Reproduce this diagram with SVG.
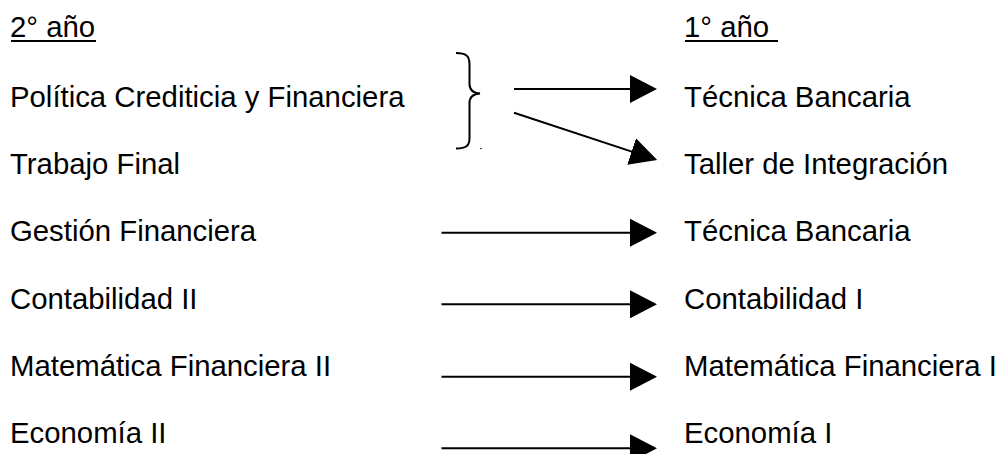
<svg xmlns="http://www.w3.org/2000/svg" width="998" height="454" viewBox="0 0 998 454">
<style>
text{font-family:"Liberation Sans",Arial,sans-serif;font-size:29.33px;fill:#000}
.c{stroke:#000;stroke-width:2;fill:none}
.u{stroke:#000;stroke-width:2}
</style>
<defs>
<marker id="ah" markerUnits="userSpaceOnUse" markerWidth="28" markerHeight="28" refX="25" refY="14" orient="auto" viewBox="0 0 28 28">
<path d="M0,0 L27,14 L0,28 Z" fill="#000"/>
</marker>
</defs>
<rect width="998" height="454" fill="#fff"/>
<g id="header-2">
<text x="10" y="37">2° año</text>
<line class="u" x1="11" y1="41" x2="96" y2="41"/>
</g>
<g id="header-1">
<text x="684" y="37">1° año</text>
<line class="u" x1="685" y1="41" x2="778" y2="41"/>
</g>
<g id="l1"><text x="10" y="107">Política Crediticia y Financiera</text></g>
<g id="l2"><text x="10" y="174">Trabajo Final</text></g>
<g id="l3"><text x="10" y="241">Gestión Financiera</text></g>
<g id="l4"><text x="10" y="309">Contabilidad II</text></g>
<g id="l5"><text x="10" y="376">Matemática Financiera II</text></g>
<g id="l6"><text x="10" y="443">Economía II</text></g>
<g id="r1"><text x="684" y="107">Técnica Bancaria</text></g>
<g id="r2"><text x="684" y="174">Taller de Integración</text></g>
<g id="r3"><text x="684" y="241">Técnica Bancaria</text></g>
<g id="r4"><text x="684" y="309">Contabilidad I</text></g>
<g id="r5"><text x="684" y="376">Matemática Financiera I</text></g>
<g id="r6"><text x="684" y="443">Economía I</text></g>
<g id="brace">
<path class="c" d="M456,53 C466,53 469.5,56 469.5,64 L469.5,84 C469.5,90 473,93 480,93.5 C473,94 469.5,97 469.5,103 L469.5,138 C469.5,146 466,148.5 456,148.5"/>
<circle cx="481" cy="148.5" r="0.8" fill="#000"/>
</g>
<g id="connectors">
<line class="c" x1="514" y1="89" x2="655" y2="89" marker-end="url(#ah)"/>
<line class="c" x1="514" y1="112.7" x2="655.3" y2="159.4" marker-end="url(#ah)"/>
<line class="c" x1="441.5" y1="232.7" x2="655" y2="232.7" marker-end="url(#ah)"/>
<line class="c" x1="441.5" y1="304.3" x2="655" y2="304.3" marker-end="url(#ah)"/>
<line class="c" x1="441.5" y1="376.7" x2="655" y2="376.7" marker-end="url(#ah)"/>
<line class="c" x1="441.5" y1="448.3" x2="655" y2="448.3" marker-end="url(#ah)"/>
</g>
</svg>
